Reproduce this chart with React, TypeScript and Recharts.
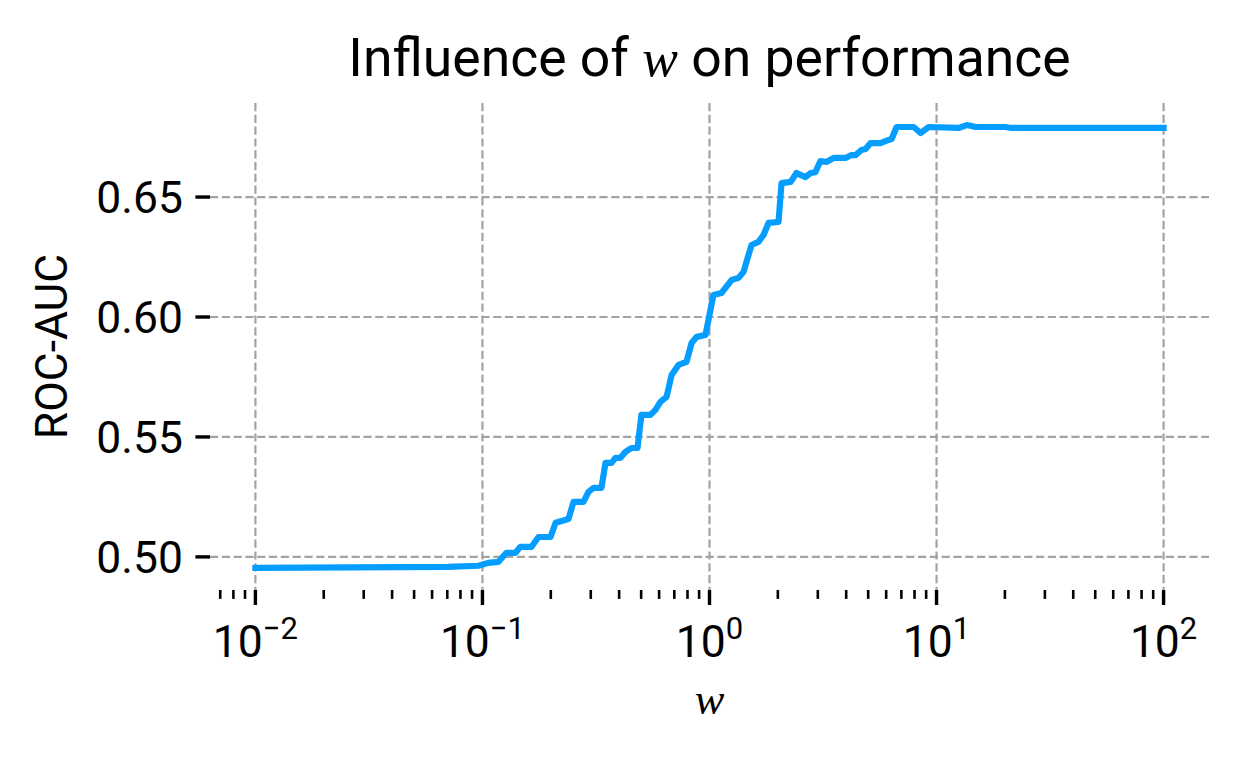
import React from 'react'
import { LineChart, Line, XAxis, YAxis, CartesianGrid, Label } from 'recharts'

// w values (log-spaced sweep) and the ROC-AUC
const wValues = [
  0.01, 0.0708, 0.096, 0.106, 0.1175, 0.1275, 0.1397, 0.147, 0.1643, 0.1766,
  0.1995, 0.21, 0.2394, 0.2518, 0.2786, 0.2931, 0.3084, 0.3343, 0.3483, 0.37,
  0.3853, 0.4055, 0.4266, 0.4529, 0.4819, 0.5015, 0.5495, 0.578, 0.608, 0.647,
  0.681, 0.73, 0.792, 0.834, 0.877, 0.96, 1.041, 1.129, 1.25, 1.343,
  1.412, 1.531, 1.643, 1.729, 1.82, 2.014, 2.076, 2.275, 2.416, 2.648,
  2.785, 2.929, 3.08, 3.27, 3.52, 3.97, 4.22, 4.4, 4.67, 4.87,
  5.12, 5.66, 6.15, 6.34, 6.67, 7.93, 8.51, 9.23, 12.5, 13.6,
  14.9, 20.1, 21.4, 100,
]
const rocAuc = [
  0.4954, 0.4958, 0.4963, 0.4975, 0.4979, 0.5017, 0.5017, 0.5042, 0.5042, 0.5083,
  0.5083, 0.5142, 0.5158, 0.5229, 0.5229, 0.5271, 0.5288, 0.5288, 0.5392, 0.5392,
  0.5413, 0.5413, 0.5438, 0.5454, 0.5454, 0.5592, 0.5592, 0.5613, 0.5646, 0.5667,
  0.5758, 0.58, 0.5813, 0.5892, 0.5917, 0.5925, 0.6092, 0.61, 0.6154, 0.6163,
  0.6188, 0.63, 0.6313, 0.6342, 0.6392, 0.6396, 0.6558, 0.6563, 0.66, 0.6583,
  0.66, 0.6604, 0.665, 0.6646, 0.6663, 0.6663, 0.6675, 0.6675, 0.6696, 0.67,
  0.6725, 0.6725, 0.6738, 0.6742, 0.6792, 0.6792, 0.6767, 0.6792, 0.6788, 0.68,
  0.6792, 0.6792, 0.6788, 0.6788,
]

const xMajorTicks = [0.01, 0.1, 1, 10, 100]
const xMinorTicks = [
  0.007, 0.008, 0.009,
  0.02, 0.03, 0.04, 0.05, 0.06, 0.07, 0.08, 0.09,
  0.2, 0.3, 0.4, 0.5, 0.6, 0.7, 0.8, 0.9,
  2, 3, 4, 5, 6, 7, 8, 9,
  20, 30, 40, 50, 60, 70, 80, 90,
]
const yTicks = [0.5, 0.55, 0.6, 0.65]

const data = wValues.map((w, i) => ({ w, auc: rocAuc[i] }))
const allXTicks = [...xMajorTicks, ...xMinorTicks].sort((a, b) => a - b)
const X_DOMAIN = [0.00631, 158.5]

const FONT = 'Roboto, sans-serif'
const MATH = '"Liberation Serif", "DejaVu Serif", serif'
const FS = 44.4

// draws tick marks for every x tick, labels only on the decades
function LogTick({ x, y, payload }: any) {
  const v = payload.value
  const isMajor = xMajorTicks.includes(v)
  const len = isMajor ? 15 : 8.9
  const exp = Math.round(Math.log10(v))
  const expText = exp < 0 ? `\u2212${-exp}` : `${exp}`
  return (
    <g>
      <line x1={x} x2={x} y1={y} y2={y + len} stroke="#000" strokeWidth={isMajor ? 3.4 : 2.6} />
      {isMajor && (
        <text x={x} y={y} textAnchor="middle" fontFamily={FONT} fontSize={FS} fill="#000">
          <tspan dy={67}>10</tspan>
          <tspan dy={-18} fontSize={31}>{expText}</tspan>
        </text>
      )}
    </g>
  )
}

const yLabel = ({ viewBox }: any) => {
  const cy = viewBox.y + viewBox.height / 2
  return (
    <text x={67} y={cy} transform={`rotate(-90, 67, ${cy})`} textAnchor="middle"
      fontFamily={FONT} fontSize={FS} fill="#000">
      ROC-AUC
    </text>
  )
}

const xLabel = ({ viewBox }: any) => {
  const cx = viewBox.x + viewBox.width / 2
  return (
    <text x={cx} y={714} textAnchor="middle" fontFamily={MATH} fontStyle="italic"
      fontSize={FS} fill="#000">
      w
    </text>
  )
}

export default function App() {
  return (
    <div style={{ position: 'absolute', left: 0, top: 0, width: 1244, height: 760, background: '#fff' }}>
      <div
        style={{
          position: 'absolute', left: 210, width: 999, top: 31, textAlign: 'center',
          fontFamily: FONT, fontSize: 53.5, lineHeight: '53.5px', color: '#000', whiteSpace: 'nowrap',
        }}
      >
        Influence of <span style={{ fontFamily: MATH, fontStyle: 'italic' }}>w</span> on performance
      </div>
      <LineChart width={1244} height={760} data={data}
        margin={{ top: 103, right: 35, left: 0, bottom: 0 }}>
        <CartesianGrid xAxisId="grid" syncWithTicks stroke="#a3a3a3" strokeWidth={2.2}
          strokeDasharray="8.2 3.6" />
        <XAxis
          xAxisId="grid"
          dataKey="w"
          type="number"
          scale="log"
          domain={X_DOMAIN}
          allowDataOverflow
          ticks={xMajorTicks}
          interval={0}
          hide
        />
        <XAxis
          dataKey="w"
          type="number"
          scale="log"
          domain={X_DOMAIN}
          allowDataOverflow
          ticks={allXTicks}
          interval={0}
          tick={<LogTick />}
          tickSize={0}
          tickMargin={0}
          tickLine={false}
          axisLine={false}
          height={170}
        >
          <Label content={xLabel} />
        </XAxis>
        <YAxis
          type="number"
          domain={[0.4862, 0.6892]}
          allowDataOverflow
          ticks={yTicks}
          interval={0}
          tickFormatter={(v: number) => v.toFixed(2)}
          tick={{ fontFamily: FONT, fontSize: FS, fill: '#000' }}
          tickSize={14.6}
          tickMargin={12.5}
          tickLine={{ stroke: '#000', strokeWidth: 3.4 }}
          axisLine={false}
          width={210}
        >
          <Label content={yLabel} />
        </YAxis>
        <Line
          dataKey="auc"
          type="linear"
          stroke="#069efe"
          strokeWidth={6.2}
          strokeLinejoin="round"
          strokeLinecap="square"
          dot={false}
          activeDot={false}
          isAnimationActive={false}
        />
      </LineChart>
    </div>
  )
}
